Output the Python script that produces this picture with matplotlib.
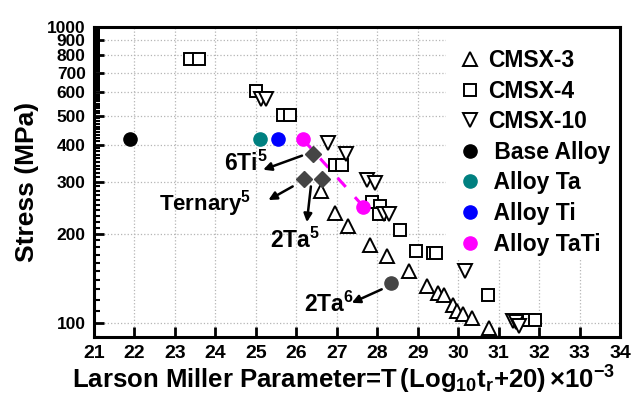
import matplotlib
matplotlib.use("Agg")
import matplotlib.pyplot as plt
from matplotlib.ticker import FixedLocator, NullFormatter
from matplotlib.patches import Rectangle

plt.rcParams["font.family"] = ["Liberation Sans", "DejaVu Sans"]
plt.rcParams["font.weight"] = "bold"
plt.rcParams["mathtext.fontset"] = "custom"
plt.rcParams["mathtext.rm"] = "Liberation Sans:bold"
plt.rcParams["mathtext.it"] = "Liberation Sans:bold"
plt.rcParams["mathtext.bf"] = "Liberation Sans:bold"
plt.rcParams["mathtext.default"] = "regular"

# valeurs (LMP, contrainte en MPa)
cmsx3_x = [26.6, 26.95, 27.28, 27.82, 28.24, 28.79, 29.22, 29.5, 29.64, 29.87, 29.96, 30.13, 30.35, 30.75]
cmsx3_y = [280, 235, 213, 184, 169, 150, 133, 126, 124, 115, 110, 107, 104, 96]

cmsx4_x = [23.37, 23.6, 25.0, 25.67, 25.85, 26.96, 27.13, 27.86, 28.08, 28.04, 28.57,
           28.96, 29.37, 29.44, 30.73, 31.5, 31.62, 31.75, 31.9]
cmsx4_y = [780, 780, 605, 505, 505, 341, 341, 256, 248, 234, 206,
           175, 172, 173, 124, 102.5, 102.5, 102.5, 102.5]

cmsx10_x = [25.12, 25.24, 26.78, 27.24, 27.74, 27.95, 28.17, 28.3, 30.17, 31.36, 31.43, 31.5]
cmsx10_y = [570, 570, 404, 373, 303, 297, 234, 233, 150, 101.5, 101, 97.5]

base_x, base_y = [21.9], [417]
ta_x, ta_y = [25.09], [417]
ti_x, ti_y = [25.55], [417]
tati_x, tati_y = [26.16, 27.66], [417, 247]

# points de la littérature (losanges gris) et 2Ta6
lit_x, lit_y = [26.4, 26.2, 26.63], [373, 306, 306]
ta6_x, ta6_y = [28.34], [137]

x_ticks = list(range(21, 35))
y_ticks = [100, 200, 300, 400, 500, 600, 700, 800, 900, 1000]

fig = plt.figure(figsize=(6.31, 3.97), dpi=100)
ax = fig.add_axes([0.149, 0.152, 0.8336, 0.781])

ax.set_yscale("log")
ax.set_xlim(21, 34)
ax.set_ylim(90, 1000)

ax.plot(tati_x, tati_y, color="#ff00ff", lw=2.2, ls=(0, (4, 4.5)), zorder=2)

ax.plot(cmsx3_x, cmsx3_y, ls="none", marker="^", ms=10, mfc="white", mec="black", mew=1.4, label="CMSX-3", zorder=3)
ax.plot(cmsx4_x, cmsx4_y, ls="none", marker="s", ms=8, mfc="white", mec="black", mew=1.4, label="CMSX-4", zorder=3)
ax.plot(cmsx10_x, cmsx10_y, ls="none", marker="v", ms=10, mfc="white", mec="black", mew=1.4, label="CMSX-10", zorder=3)
ax.plot(base_x, base_y, ls="none", marker="o", ms=9.5, color="black", label=" Base Alloy", zorder=4)
ax.plot(ta_x, ta_y, ls="none", marker="o", ms=9.5, color="#008080", label=" Alloy Ta", zorder=4)
ax.plot(ti_x, ti_y, ls="none", marker="o", ms=9.5, color="#0000ff", label=" Alloy Ti", zorder=4)
ax.plot(tati_x, tati_y, ls="none", marker="o", ms=9.5, color="#ff00ff", label=" Alloy TaTi", zorder=4)

ax.plot(lit_x, lit_y, ls="none", marker="D", ms=8.5, color="#454545", zorder=4)
ax.plot(ta6_x, ta6_y, ls="none", marker="o", ms=9.5, color="#454545", zorder=4)

# flèches + étiquettes
arrow = dict(arrowstyle="-|>", color="black", lw=1.8, mutation_scale=12, shrinkA=0, shrinkB=0)
ax.annotate("", xy=(25.18, 329), xytext=(26.14, 367), arrowprops=arrow)
ax.annotate("", xy=(25.31, 260), xytext=(25.91, 289), arrowprops=arrow)
ax.annotate("", xy=(26.26, 219), xytext=(26.36, 289), arrowprops=arrow)
ax.annotate("", xy=(27.37, 117), xytext=(28.11, 130), arrowprops=arrow)

ax.text(25.3, 345, "6Ti$^{5}$", fontsize=16.5, fontweight="bold", ha="right", va="center")
ax.text(24.88, 253, "Ternary$^{5}$", fontsize=16, fontweight="bold", ha="right", va="center")
ax.text(26.6, 190, "2Ta$^{5}$", fontsize=16.5, fontweight="bold", ha="right", va="center")
ax.text(27.43, 115.5, "2Ta$^{6}$", fontsize=16.5, fontweight="bold", ha="right", va="center")

ax.set_xticks(x_ticks, [str(v) for v in x_ticks], fontsize=14, fontweight="bold")
ax.set_yticks(y_ticks, [str(v) for v in y_ticks], fontsize=12.5, fontweight="bold")
ax.yaxis.set_minor_locator(FixedLocator([v for v in range(90, 1000, 10) if v % 100 != 0]))
ax.yaxis.set_minor_formatter(NullFormatter())

ax.tick_params(axis="x", which="major", direction="in", length=7, width=2, pad=6, top=False)
ax.tick_params(axis="y", which="major", direction="in", length=7, width=2, pad=6, right=False)
ax.tick_params(axis="y", which="minor", direction="in", length=4, width=1.5, right=False)

for sp in ax.spines.values():
    sp.set_linewidth(2.2)

ax.grid(True, which="major", ls=":", color="#b5b5b5", lw=0.9)
ax.set_axisbelow(True)

# fond blanc derrière la légende (cache la grille)
ax.add_patch(Rectangle((0.669, 0.254), 0.331, 0.746, transform=ax.transAxes,
                       facecolor="white", edgecolor="none", zorder=1.5))

ax.set_ylabel("Stress (MPa)", fontsize=19, fontweight="bold", labelpad=6)
ax.set_xlabel("Larson Miller Parameter=T$\\,$(Log$_{10}$t$_r$+20)$\\,$×10$^{-3}$",
              fontsize=18.5, fontweight="bold", labelpad=0)
ax.xaxis.set_label_coords(0.475, -0.088)

leg = ax.legend(loc="upper left", bbox_to_anchor=(0.7266, 0.876), bbox_transform=fig.transFigure,
                fontsize=16.5, frameon=False, handlelength=1.0, handletextpad=0.28,
                labelspacing=0.33, borderpad=0, borderaxespad=0)
for t in leg.get_texts():
    t.set_fontweight("bold")

fig.savefig("out.png", dpi=100)
